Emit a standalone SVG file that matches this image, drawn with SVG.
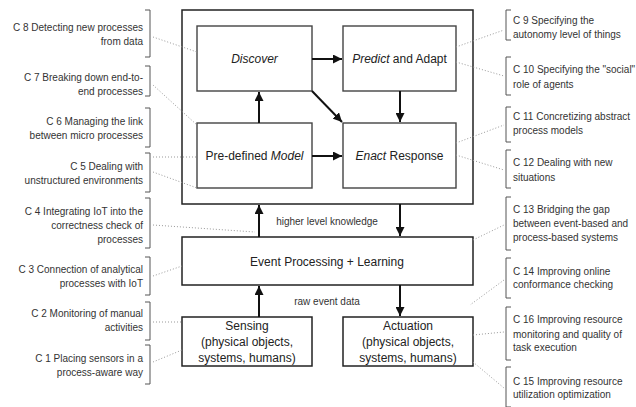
<svg xmlns="http://www.w3.org/2000/svg" width="636" height="407" viewBox="0 0 636 407">
<defs>
<marker id="ah" viewBox="0 0 10 10" refX="10" refY="5" markerWidth="4.5" markerHeight="4.5" orient="auto" markerUnits="strokeWidth">
<path d="M0,0 L10,5 L0,10 z" fill="#111"/>
</marker>
</defs>
<style>
.box{fill:#fff;stroke:#222;stroke-width:1.5}
.ibox{fill:#fff;stroke:#444;stroke-width:1.4}
.t{font-family:"Liberation Sans",Arial,sans-serif;font-size:12px;fill:#222;text-anchor:middle}
.s{font-family:"Liberation Sans",Arial,sans-serif;font-size:10px;fill:#333;text-anchor:middle}
.l{font-family:"Liberation Sans",Arial,sans-serif;font-size:10px;fill:#333;text-anchor:end}
.r{font-family:"Liberation Sans",Arial,sans-serif;font-size:10px;fill:#333;text-anchor:start}
.i{font-style:italic}
.arr{stroke:#111;stroke-width:2;fill:none;marker-end:url(#ah)}
.br{stroke:#555;stroke-width:1;fill:none}
.dot{stroke:#999;stroke-width:1;stroke-dasharray:1 2;fill:none}
</style>
<rect width="636" height="407" fill="#fff"/>

<g id="outer"><rect class="box" x="182" y="10" width="291" height="194"/></g>
<g id="discover"><rect class="ibox" x="197" y="26" width="115" height="65"/><text class="t i" x="254.5" y="63">Discover</text></g>
<g id="predict"><rect class="ibox" x="343" y="26" width="113" height="65"/><text class="t" x="399.5" y="63"><tspan class="i">Predict</tspan> and Adapt</text></g>
<g id="model"><rect class="ibox" x="197" y="123" width="115" height="65"/><text class="t" x="254.5" y="160">Pre-defined <tspan class="i">Model</tspan></text></g>
<g id="enact"><rect class="ibox" x="343" y="123" width="113" height="65"/><text class="t" x="399.5" y="160"><tspan class="i">Enact</tspan> Response</text></g>
<g id="event"><rect class="box" x="182" y="237" width="291" height="48"/><text class="t" x="327" y="266">Event Processing + Learning</text></g>
<g id="sensing"><rect class="box" x="182" y="317" width="130" height="49"/><text class="t" x="247" y="330">Sensing</text><text class="t" x="247" y="346">(physical objects,</text><text class="t" x="247" y="362">systems, humans)</text></g>
<g id="actuation"><rect class="box" x="343" y="317" width="130" height="49"/><text class="t" x="408" y="330">Actuation</text><text class="t" x="408" y="346">(physical objects,</text><text class="t" x="408" y="362">systems, humans)</text></g>

<g id="connectors">
<line class="arr" x1="312" y1="59" x2="342" y2="59"/>
<line class="arr" x1="312" y1="91" x2="342" y2="122"/>
<line class="arr" x1="400" y1="91" x2="400" y2="122"/>
<line class="arr" x1="259" y1="123" x2="259" y2="92"/>
<line class="arr" x1="312" y1="156" x2="342" y2="156"/>
<line class="arr" x1="259" y1="237" x2="259" y2="205"/>
<line class="arr" x1="400" y1="204" x2="400" y2="236"/>
<line class="arr" x1="259" y1="317" x2="259" y2="286"/>
<line class="arr" x1="400" y1="285" x2="400" y2="316"/>
<text class="s" x="327" y="225">higher level knowledge</text>
<text class="s" x="327" y="305">raw event data</text>

<line class="dot" x1="153" y1="37" x2="197" y2="52"/>
<line class="dot" x1="153" y1="85" x2="197" y2="125"/>
<line class="dot" x1="153" y1="157" x2="197" y2="157"/>
<line class="dot" x1="153" y1="172" x2="197" y2="188"/>
<line class="dot" x1="153" y1="225" x2="255" y2="232"/>
<line class="dot" x1="153" y1="276" x2="182" y2="266"/>
<line class="dot" x1="153" y1="322" x2="182" y2="322"/>
<line class="dot" x1="153" y1="362" x2="182" y2="350"/>
<line class="dot" x1="456" y1="47" x2="504" y2="30"/>
<line class="dot" x1="456" y1="62" x2="504" y2="76"/>
<line class="dot" x1="456" y1="143" x2="504" y2="125"/>
<line class="dot" x1="456" y1="155" x2="504" y2="170"/>
<line class="dot" x1="473" y1="240" x2="504" y2="225"/>
<line class="dot" x1="504" y1="280" x2="470" y2="305"/>
<line class="dot" x1="473" y1="335" x2="504" y2="332"/>
<line class="dot" x1="473" y1="362" x2="504" y2="388"/>
</g>

<g id="c8"><path class="br" d="M145,10 H150 V57 H145"/><text class="l" x="143" y="31">C 8 Detecting new processes</text><text class="l" x="143" y="45">from data</text></g>
<g id="c7"><path class="br" d="M145,66 H150 V96 H145"/><text class="l" x="143" y="81">C 7 Breaking down end-to-</text><text class="l" x="143" y="95">end processes</text></g>
<g id="c6"><path class="br" d="M145,108 H150 V147 H145"/><text class="l" x="143" y="125">C 6 Managing the link</text><text class="l" x="143" y="139">between micro processes</text></g>
<g id="c5"><path class="br" d="M145,153 H150 V192 H145"/><text class="l" x="143" y="170">C 5 Dealing with</text><text class="l" x="143" y="184">unstructured environments</text></g>
<g id="c4"><path class="br" d="M145,198 H150 V248 H145"/><text class="l" x="143" y="215">C 4 Integrating IoT into the</text><text class="l" x="143" y="229">correctness check of</text><text class="l" x="143" y="243">processes</text></g>
<g id="c3"><path class="br" d="M145,257 H150 V295 H145"/><text class="l" x="143" y="273">C 3 Connection of analytical</text><text class="l" x="143" y="287">processes with IoT</text></g>
<g id="c2"><path class="br" d="M145,302 H150 V340 H145"/><text class="l" x="143" y="317">C 2 Monitoring of manual</text><text class="l" x="143" y="331">activities</text></g>
<g id="c1"><path class="br" d="M145,345 H150 V384 H145"/><text class="l" x="143" y="362">C 1 Placing sensors in a</text><text class="l" x="143" y="376">process-aware way</text></g>

<g id="c9"><path class="br" d="M511,10 H506 V40 H511"/><text class="r" x="513" y="24">C 9 Specifying the</text><text class="r" x="513" y="38">autonomy level of things</text></g>
<g id="c10"><path class="br" d="M511,57 H506 V95 H511"/><text class="r" x="513" y="73">C 10 Specifying the "social"</text><text class="r" x="513" y="88">role of agents</text></g>
<g id="c11"><path class="br" d="M511,107 H506 V142 H511"/><text class="r" x="513" y="120">C 11 Concretizing abstract</text><text class="r" x="513" y="134">process models</text></g>
<g id="c12"><path class="br" d="M511,150 H506 V188 H511"/><text class="r" x="513" y="166">C 12 Dealing with new</text><text class="r" x="513" y="181">situations</text></g>
<g id="c13"><path class="br" d="M511,197 H506 V250 H511"/><text class="r" x="513" y="213">C 13 Bridging the gap</text><text class="r" x="513" y="227">between event-based and</text><text class="r" x="513" y="241">process-based systems</text></g>
<g id="c14"><path class="br" d="M511,258 H506 V298 H511"/><text class="r" x="513" y="275">C 14 Improving online</text><text class="r" x="513" y="288">conformance checking</text></g>
<g id="c16"><path class="br" d="M511,307 H506 V360 H511"/><text class="r" x="513" y="323">C 16 Improving resource</text><text class="r" x="513" y="338">monitoring and quality of</text><text class="r" x="513" y="351">task execution</text></g>
<g id="c15"><path class="br" d="M511,367 H506 V407 H511"/><text class="r" x="513" y="385">C 15 Improving resource</text><text class="r" x="513" y="398">utilization optimization</text></g>
</svg>
